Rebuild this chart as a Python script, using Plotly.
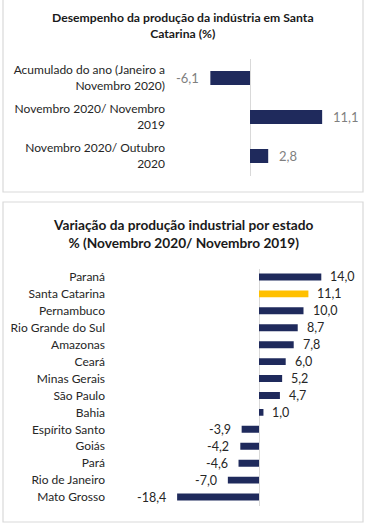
import plotly.graph_objects as go

W, H = 367, 531

# ---- data ----
top_categories = ["Acumulado do ano (Janeiro a<br>Novembro 2020)",
                  "Novembro 2020/ Novembro<br>2019",
                  "Novembro 2020/ Outubro<br>2020"]
top_values = [-6.1, 11.1, 2.8]

states = ["Paraná", "Santa Catarina", "Pernambuco", "Rio Grande do Sul", "Amazonas",
          "Ceará", "Minas Gerais", "São Paulo", "Bahia", "Espírito Santo", "Goiás",
          "Pará", "Rio de Janeiro", "Mato Grosso"]
state_values = [14.0, 11.1, 10.0, 8.7, 7.8, 6.0, 5.2, 4.7, 1.0, -3.9, -4.2, -4.6, -7.0, -18.4]
highlight = "Santa Catarina"

title_top = "Desempenho da produção da indústria em Santa<br>Catarina (%)"
title_bottom = "Variação da produção industrial por estado<br>% (Novembro 2020/ Novembro 2019)"

NAVY = "#1f2a5c"
GOLD = "#ffc000"
FONT = "Lato"

def px_x(p):
    return p / W

def px_y(p):
    return 1 - p / H

def fmt(v):
    return f"{v:.1f}".replace(".", ",")

fig = go.Figure()

fig.add_trace(go.Bar(
    x=top_values, y=top_categories, orientation="h",
    marker=dict(color=NAVY, line=dict(width=0)), width=0.36,
    xaxis="x", yaxis="y", hoverinfo="skip", showlegend=False))

fig.add_trace(go.Bar(
    x=state_values, y=states, orientation="h",
    marker=dict(color=[GOLD if s == highlight else NAVY for s in states], line=dict(width=0)),
    width=0.41, xaxis="x2", yaxis="y2", hoverinfo="skip", showlegend=False))

annotations = []
for c, v in zip(top_categories, top_values):
    annotations.append(dict(
        x=v, y=c, xref="x", yref="y", text=fmt(v), showarrow=False,
        xanchor="left" if v >= 0 else "right", xshift=9 if v >= 0 else -9,
        font=dict(family=FONT, size=13, color="#7f7f7f")))
for s, v in zip(states, state_values):
    annotations.append(dict(
        x=v, y=s, xref="x2", yref="y2", text=fmt(v), showarrow=False,
        xanchor="left" if v >= 0 else "right", xshift=7 if v >= 0 else -9,
        font=dict(family=FONT, size=12.5, color="#262626")))

annotations.append(dict(
    x=px_x(183), y=px_y(26), xref="paper", yref="paper", text="<b>" + title_top.replace("<br>", "</b><br><b>") + "</b>",
    showarrow=False, xanchor="center", yanchor="middle",
    font=dict(family=FONT, size=12.2, color="#1a1a1a"), align="center"))
annotations.append(dict(
    x=px_x(183), y=px_y(234), xref="paper", yref="paper", text="<b>" + title_bottom.replace("<br>", "</b><br><b>") + "</b>",
    showarrow=False, xanchor="center", yanchor="middle",
    font=dict(family=FONT, size=13.7, color="#1a1a1a"), align="center"))

shapes = [
    dict(type="rect", xref="paper", yref="paper",
         x0=px_x(3), x1=px_x(363), y0=px_y(192), y1=px_y(-5),
         line=dict(color="#d9d9d9", width=1.2), fillcolor="rgba(0,0,0,0)", layer="below"),
    dict(type="rect", xref="paper", yref="paper",
         x0=px_x(3), x1=px_x(363), y0=px_y(522), y1=px_y(202),
         line=dict(color="#d9d9d9", width=1.2), fillcolor="rgba(0,0,0,0)", layer="below"),
]

fig.update_layout(
    width=W, height=H, margin=dict(l=0, r=0, t=0, b=0, autoexpand=False),
    paper_bgcolor="white", plot_bgcolor="white",
    bargap=0.6, annotations=annotations, shapes=shapes,
    xaxis=dict(domain=[px_x(170), px_x(356)], range=[-80 / 6.5, 106 / 6.5],
               showgrid=False, showticklabels=False, zeroline=True, automargin=False,
               zerolinecolor="#d9d9d9", zerolinewidth=1, fixedrange=True),
    yaxis=dict(domain=[px_y(175.5), px_y(58.5)], range=[2.5, -0.5], automargin=False,
               showgrid=False, zeroline=False, ticks="", ticklabelstandoff=4,
               tickfont=dict(family=FONT, size=12, color="#262626"), anchor="x"),
    xaxis2=dict(domain=[px_x(112), px_x(356)], range=[-147 / 4.45, 97 / 4.45],
                showgrid=False, showticklabels=False, zeroline=True, automargin=False,
                zerolinecolor="#d9d9d9", zerolinewidth=1, anchor="y2"),
    yaxis2=dict(domain=[px_y(505.5), px_y(268.5)], range=[13.5, -0.5], automargin=False,
                showgrid=False, zeroline=False, ticks="", ticklabelstandoff=6,
                tickfont=dict(family=FONT, size=12, color="#262626"), anchor="x2"),
)

fig.write_html("out.html", config={"displayModeBar": False},
               post_script="document.body.style.margin='0';document.body.style.overflow='hidden';")
